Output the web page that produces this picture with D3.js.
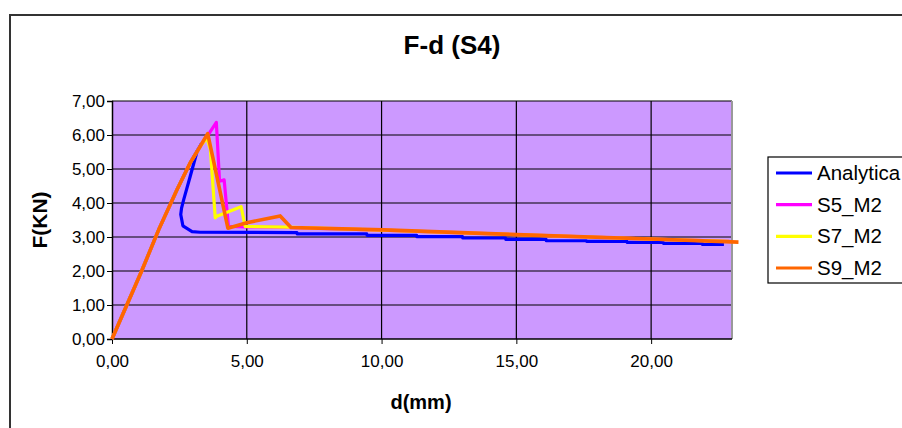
<!DOCTYPE html>
<html><head><meta charset="utf-8">
<script src="https://cdn.jsdelivr.net/npm/d3@7"></script>
<style>body{margin:0;background:#fff}svg{display:block}text{font-family:"Liberation Sans",Arial,sans-serif}</style>
</head><body>
<script>
const title = "F-d (S4)";
const xLabel = "d(mm)";
const yLabel = "F(KN)";
const seriesNames = ["Analytica", "S5_M2", "S7_M2", "S9_M2"];
const seriesColors = ["#0000FF", "#FF00FF", "#FFFF00", "#FF6600"];
const xTicks = [0, 5, 10, 15, 20];
const yTicks = [0, 1, 2, 3, 4, 5, 6, 7];

const analytica = [[0,0],[1.1,2.0],[1.73,3.21],[2.41,4.39],[2.9,5.18],[3.3,5.72],[3.15,5.5],[2.9,4.78],[2.66,4.1],[2.58,3.85],[2.55,3.66],[2.63,3.33],[2.97,3.16],[3.27,3.14],[6.86,3.13],[6.87,3.09],[9.45,3.09],[9.46,3.05],[11.3,3.05],[11.31,3.01],[13.0,3.01],[13.01,2.97],[14.6,2.97],[14.61,2.93],[16.1,2.93],[16.11,2.89],[17.6,2.89],[17.61,2.87],[19.1,2.87],[19.11,2.84],[20.45,2.84],[20.46,2.81],[21.9,2.81],[21.91,2.78],[22.7,2.78]];
const s5 = [[0,0],[1.1,2.0],[1.73,3.21],[2.41,4.39],[2.9,5.18],[3.3,5.7],[3.55,5.98],[3.87,6.37],[3.99,4.64],[4.16,4.68],[4.32,3.31],[5.0,3.3],[6.5,3.28],[10,3.2],[15,3.07],[20,2.94],[22.9,2.87]];
const s7 = [[0,0],[1.1,2.0],[1.73,3.21],[2.41,4.39],[2.9,5.18],[3.27,5.66],[3.52,5.91],[3.65,5.57],[3.83,3.56],[3.89,3.61],[4.79,3.89],[4.94,3.31],[6.5,3.29],[10,3.2],[15,3.07],[20,2.94],[22.9,2.87]];
const s9 = [[0,0],[1.1,2.0],[1.73,3.21],[2.41,4.39],[2.9,5.18],[3.27,5.66],[3.55,6.04],[4.3,3.26],[5.0,3.42],[5.87,3.56],[6.24,3.62],[6.64,3.28],[10.07,3.21],[15,3.07],[20,2.94],[23.24,2.85]];
const seriesData = [analytica, s5, s7, s9];

const W = 902, H = 428;
const plot = {left: 112, right: 732, top: 101, bottom: 339};
const svg = d3.select("body").append("svg").attr("width", W).attr("height", H);

// chart border
svg.append("path").attr("d", `M10,${H+5} V15 H${W+5}`).attr("fill","none").attr("stroke","#333").attr("stroke-width",2);

const x = d3.scaleLinear().domain([0, 23]).range([plot.left, plot.right]);
const y = d3.scaleLinear().domain([0, 7]).range([plot.bottom, plot.top]);

svg.append("rect").attr("x", plot.left).attr("y", plot.top).attr("width", plot.right-plot.left).attr("height", plot.bottom-plot.top).attr("fill", "#CC99FF");

// gridlines
svg.append("g").selectAll("line").data(yTicks.slice(1)).join("line")
  .attr("x1", plot.left).attr("x2", plot.right).attr("y1", d=>y(d)).attr("y2", d=>y(d))
  .attr("stroke", "#000").attr("stroke-width", 1.2);
svg.append("g").selectAll("line").data(xTicks.slice(1)).join("line")
  .attr("y1", plot.top).attr("y2", plot.bottom).attr("x1", d=>x(d)).attr("x2", d=>x(d))
  .attr("stroke", "#000").attr("stroke-width", 1.2);
svg.append("line").attr("x1", plot.right).attr("x2", plot.right).attr("y1", plot.top).attr("y2", plot.bottom).attr("stroke", "#999").attr("stroke-width", 2);

const fmt = d => d3.format(".2f")(d).replace(".", ",");
const xAxis = svg.append("g").attr("transform", `translate(0,${plot.bottom})`)
  .call(d3.axisBottom(x).tickValues(xTicks).tickFormat(fmt).tickSize(5).tickPadding(11));
const yAxis = svg.append("g").attr("transform", `translate(${plot.left},0)`)
  .call(d3.axisLeft(y).tickValues(yTicks).tickFormat(fmt).tickSize(5).tickPadding(2));
[xAxis, yAxis].forEach(a => {
  a.select(".domain").attr("stroke", "#000").attr("stroke-width", 1.5);
  a.selectAll(".tick line").attr("stroke", "#000");
  a.selectAll("text").attr("font-size", 17).attr("fill", "#000").style("font-family", '"Liberation Sans",Arial,sans-serif');
});
xAxis.select(".domain").attr("d", `M${plot.left},0H${plot.right}`);

const line = d3.line().x(d=>x(d[0])).y(d=>y(d[1]));
seriesData.forEach((data, i) => {
  svg.append("path").datum(data).attr("d", line).attr("fill", "none")
    .attr("stroke", seriesColors[i]).attr("stroke-width", i === 3 ? 3.6 : 3.2).attr("stroke-linejoin", "round");
});

svg.append("text").attr("x", 452).attr("y", 54).attr("text-anchor", "middle")
  .attr("font-size", 26).attr("font-weight", "bold").text(title);
svg.append("text").attr("x", 421).attr("y", 409).attr("text-anchor", "middle")
  .attr("font-size", 20).attr("font-weight", "bold").text(xLabel);
svg.append("text").attr("transform", "translate(47,220) rotate(-90)").attr("text-anchor", "middle")
  .attr("font-size", 21).attr("font-weight", "bold").text(yLabel);

// legend
const lg = svg.append("g");
lg.append("rect").attr("x", 768).attr("y", 157).attr("width", 150).attr("height", 126)
  .attr("fill", "#fff").attr("stroke", "#000").attr("stroke-width", 1.2);
const rowY = d3.scalePoint().domain(seriesNames).range([173, 268]);
seriesNames.forEach((n, i) => {
  lg.append("line").attr("x1", 776).attr("x2", 812).attr("y1", rowY(n)).attr("y2", rowY(n))
    .attr("stroke", seriesColors[i]).attr("stroke-width", 3.2);
  lg.append("text").attr("x", 817).attr("y", rowY(n) + 7).attr("font-size", 20.5).text(n);
});
</script>
</body></html>
